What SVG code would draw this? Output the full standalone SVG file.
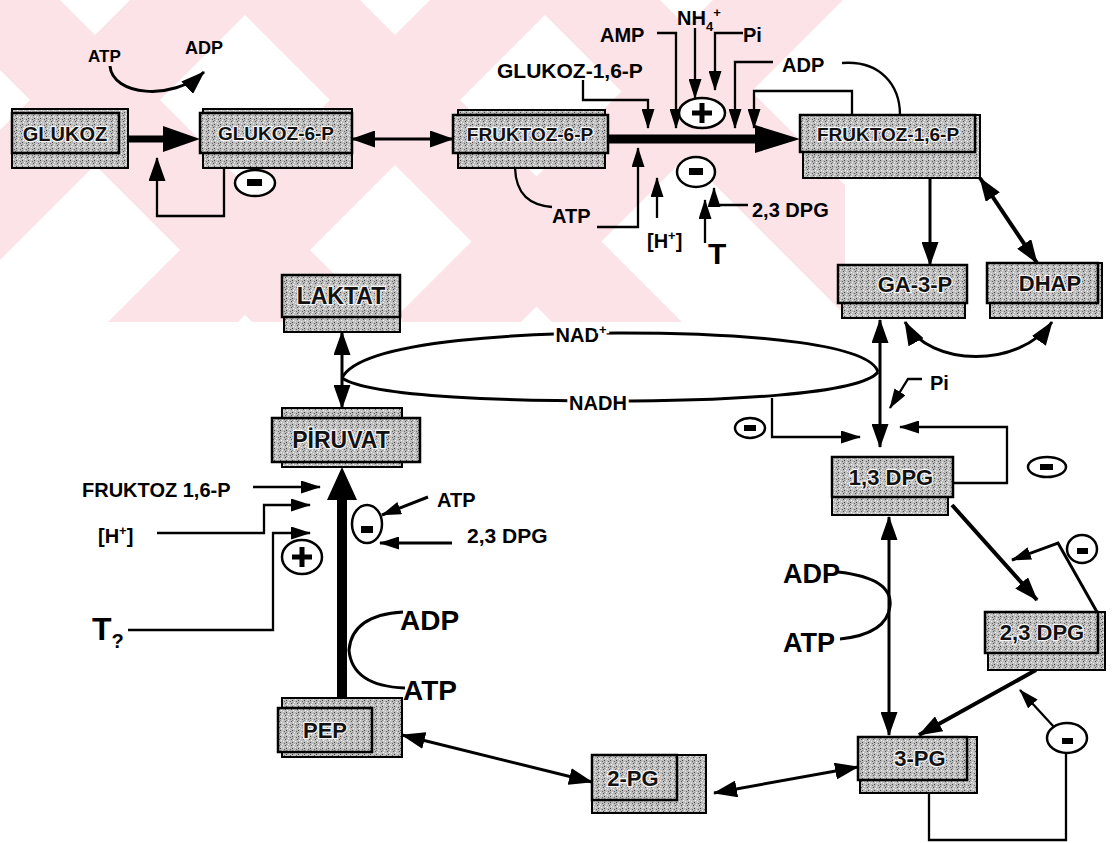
<svg xmlns="http://www.w3.org/2000/svg" width="1117" height="843" viewBox="0 0 1117 843">
<defs>
<style>
.ln{fill:none;stroke:#000;stroke-width:2.3}
.w3{stroke-width:3}
.w4{stroke-width:4}
.t{font-family:"Liberation Sans",Arial,sans-serif;font-weight:bold;fill:#000}
.h{stroke:#fff;stroke-width:6;paint-order:stroke}
.bk{fill:url(#st);stroke:#000;stroke-width:2}
.fr{fill:url(#st);stroke:#000;stroke-width:2.5}
.bl{font-family:"Liberation Sans",Arial,sans-serif;font-weight:bold;text-anchor:middle;fill:#111;stroke:#f4f4f4;stroke-width:2.5;paint-order:stroke}
.c{fill:#fff;stroke:#000;stroke-width:2.5}
.wm{fill:#fce3e7}
</style>
<pattern id="st" width="6" height="6" patternUnits="userSpaceOnUse">
<rect width="6" height="6" fill="#bdbdbd"/>
<rect x="0" y="0" width="1" height="1" fill="#f2f2f2"/>
<rect x="3" y="1" width="1" height="1" fill="#555"/>
<rect x="1" y="3" width="1" height="1" fill="#eee"/>
<rect x="4" y="4" width="1" height="1" fill="#444"/>
<rect x="5" y="2" width="1" height="1" fill="#fff"/>
<rect x="2" y="5" width="1" height="1" fill="#666"/>
<rect x="4" y="0" width="1" height="1" fill="#888"/>
</pattern>
<marker id="s" viewBox="0 0 20 13" refX="19" refY="6.5" markerWidth="20" markerHeight="13" markerUnits="userSpaceOnUse" orient="auto-start-reverse"><path d="M0,0L20,6.5L0,13z"/></marker>
<marker id="m" viewBox="0 0 24 17" refX="23" refY="8.5" markerWidth="24" markerHeight="17" markerUnits="userSpaceOnUse" orient="auto-start-reverse"><path d="M0,0L24,8.5L0,17z"/></marker>
<clipPath id="wc"><rect x="0" y="0" width="845" height="322"/></clipPath>
</defs>
<rect width="1117" height="843" fill="#fff"/>

<g id="watermark" clip-path="url(#wc)">
<polygon class="wm" points="-70,0 60,0 382,322 252,322"/>
<polygon class="wm" points="230,0 360,0 682,322 552,322"/>
<polygon class="wm" points="530,0 660,0 982,322 852,322"/>
<polygon class="wm" points="130,0 260,0 -62,322 -192,322"/>
<polygon class="wm" points="430,0 560,0 238,322 108,322"/>
<polygon class="wm" points="713,0 843,0 521,322 391,322"/>
</g>

<g id="connectors">
<path class="ln w3" d="M110,66 C112,95 172,102 204,72" marker-end="url(#m)"/>
<line x1="128" y1="139" x2="165" y2="139" stroke="#000" stroke-width="7"/>
<polygon points="163,126 200,139 163,152"/>
<path class="ln" d="M224,168 V216 H157 V158" marker-end="url(#m)"/>
<line class="ln w3" x1="352" y1="139" x2="453" y2="139" marker-start="url(#m)" marker-end="url(#m)"/>
<line x1="608" y1="139" x2="757" y2="139" stroke="#000" stroke-width="9"/>
<polygon points="755,125 800,139 755,153"/>
<path class="ln" d="M583,80 V100 H648 V128" marker-end="url(#s)"/>
<path class="ln" d="M657,33 H676 V128" marker-end="url(#s)"/>
<path class="ln" d="M695,28 V98" marker-end="url(#s)"/>
<path class="ln" d="M743,33 H715 V90" marker-end="url(#s)"/>
<path class="ln" d="M773,62 H735 V128" marker-end="url(#s)"/>
<path class="ln" d="M852,115 V91 H754 V128" marker-end="url(#s)"/>
<path class="ln" d="M842,63 C880,60 900,85 900,115"/>
<path class="ln" d="M515,168 C516,195 530,205 552,207"/>
<path class="ln" d="M597,227 H638 V148" marker-end="url(#s)"/>
<path class="ln" d="M657,218 V178" marker-end="url(#s)"/>
<path class="ln" d="M748,205 H714 V188" marker-end="url(#s)"/>
<path class="ln" d="M705,243 V200" marker-end="url(#s)"/>
<path class="ln w3" d="M930,178 V265" marker-end="url(#m)"/>
<line class="ln w4" x1="980" y1="178" x2="1037" y2="263" marker-start="url(#m)" marker-end="url(#m)"/>
<path class="ln w3" d="M905,322 C930,368 1020,368 1052,322" marker-start="url(#m)" marker-end="url(#m)"/>
<path class="ln w3" d="M880,320 V447" marker-start="url(#m)" marker-end="url(#m)"/>
<path class="ln" d="M922,379 H908 L890,408" marker-end="url(#s)"/>
<path class="ln" d="M772,398 V437 H860" marker-end="url(#s)"/>
<path class="ln" d="M953,483 H1007 V427 H900" marker-end="url(#s)"/>
<line class="ln w4" x1="952" y1="505" x2="1037" y2="600" marker-end="url(#m)"/>
<path class="ln w3" d="M1097,612 L1058,543 L1012,560" marker-end="url(#s)"/>
<path class="ln w3" d="M889,517 V735" marker-start="url(#m)" marker-end="url(#m)"/>
<path class="ln w3" d="M838,572 Q893,578 890,606 Q887,634 840,639"/>
<line class="ln w4" x1="1036" y1="670" x2="919" y2="735" marker-end="url(#m)"/>
<path class="ln" d="M1054,727 L1020,690" marker-end="url(#s)"/>
<path class="ln" d="M929,793 V840 H1066 V753"/>
<line class="ln w3" x1="714" y1="793" x2="858" y2="767" marker-start="url(#m)" marker-end="url(#m)"/>
<line class="ln w3" x1="402" y1="735" x2="592" y2="782" marker-start="url(#m)" marker-end="url(#m)"/>
<line x1="342" y1="698" x2="342" y2="498" stroke="#000" stroke-width="10"/>
<polygon points="327,500 342,467 357,500"/>
<path class="ln w3" d="M403,612 Q352,615 349,650 Q352,686 405,688"/>
<path class="ln" d="M128,630 H273 V533 H310" marker-end="url(#s)"/>
<path class="ln" d="M157,533 H264 V505 H310" marker-end="url(#s)"/>
<path class="ln" d="M253,487 H320" marker-end="url(#s)"/>
<path class="ln w3" d="M428,497 L382,515" marker-end="url(#s)"/>
<path class="ln w3" d="M452,543 H380" marker-end="url(#s)"/>
<path class="ln w3" d="M342,332 V408" marker-start="url(#m)" marker-end="url(#m)"/>
<path class="ln w3" d="M342,378 C362,338 540,333 620,333 C760,333 870,345 878,372"/>
<path class="ln w3" d="M342,378 C372,398 520,401 610,401 C720,401 860,395 878,372"/>
</g>

<g id="regulators">
<ellipse class="c" cx="255" cy="183" rx="20" ry="13"/><rect x="247" y="179" width="15" height="7"/>
<ellipse class="c" cx="702" cy="113" rx="23" ry="15"/><path d="M702,103V123M692,113H712" stroke="#000" stroke-width="5"/>
<ellipse class="c" cx="696" cy="172" rx="19" ry="15"/><rect x="689" y="168" width="14" height="7"/>
<ellipse class="c" cx="367" cy="524" rx="15" ry="19"/><rect x="361" y="526" width="12" height="7"/>
<ellipse class="c" cx="302" cy="557" rx="20" ry="17"/><path d="M302,547V567M292,557H312" stroke="#000" stroke-width="5"/>
<ellipse class="c" cx="750" cy="428" rx="15" ry="10"/><rect x="744" y="425" width="12" height="6"/>
<ellipse class="c" cx="1047" cy="467" rx="19" ry="10"/><rect x="1040" y="464" width="13" height="6"/>
<ellipse class="c" cx="1082" cy="549" rx="15" ry="14"/><rect x="1077" y="548" width="11" height="6"/>
<ellipse class="c" cx="1067" cy="738" rx="20" ry="15"/><rect x="1062" y="738" width="11" height="6"/>
</g>

<g id="labels">
<text class="t" x="88" y="62" font-size="17">ATP</text>
<text class="t" x="185" y="54" font-size="18">ADP</text>
<text class="t" x="497" y="78" font-size="21">GLUKOZ-1,6-P</text>
<text class="t" x="600" y="42" font-size="20">AMP</text>
<text class="t" x="677" y="25" font-size="20">NH<tspan font-size="13" dy="6">4</tspan><tspan font-size="13" dy="-14">+</tspan></text>
<text class="t" x="743" y="42" font-size="20">Pi</text>
<text class="t" x="782" y="72" font-size="20">ADP</text>
<text class="t" x="552" y="223" font-size="20">ATP</text>
<text class="t" x="647" y="248" font-size="20">[H<tspan font-size="13" dy="-8">+</tspan><tspan dy="8">]</tspan></text>
<text class="t" x="752" y="217" font-size="20">2,3 DPG</text>
<text class="t" x="708" y="264" font-size="30">T</text>
<text class="t h" x="581" y="342" font-size="20" text-anchor="middle">NAD<tspan font-size="13" dy="-8">+</tspan></text>
<text class="t h" x="598" y="410" font-size="20" text-anchor="middle">NADH</text>
<text class="t" x="930" y="390" font-size="20">Pi</text>
<text class="t" x="783" y="583" font-size="27">ADP</text>
<text class="t" x="783" y="652" font-size="27">ATP</text>
<text class="t" x="82" y="497" font-size="20">FRUKTOZ 1,6-P</text>
<text class="t" x="437" y="507" font-size="20">ATP</text>
<text class="t" x="467" y="543" font-size="21">2,3 DPG</text>
<text class="t" x="98" y="543" font-size="20">[H<tspan font-size="13" dy="-8">+</tspan><tspan dy="8">]</tspan></text>
<text class="t" x="92" y="640" font-size="32">T<tspan font-size="20" dy="8">?</tspan></text>
<text class="t" x="400" y="630" font-size="28">ADP</text>
<text class="t" x="403" y="700" font-size="28">ATP</text>
</g>

<g id="glukoz"><rect class="bk" x="12" y="109" width="116" height="59"/><rect class="fr" x="12" y="113" width="107" height="40"/><text class="bl" x="65" y="141" font-size="20">GLUKOZ</text></g>
<g id="glukoz-6-p"><rect class="bk" x="203" y="109" width="149" height="59"/><rect class="fr" x="200" y="113" width="152" height="40"/><text class="bl" x="276" y="140" font-size="19">GLUKOZ-6-P</text></g>
<g id="fruktoz-6-p"><rect class="bk" x="458" y="110" width="147" height="58"/><rect class="fr" x="453" y="115" width="155" height="38"/><text class="bl" x="530" y="141" font-size="19">FRUKTOZ-6-P</text></g>
<g id="fruktoz-1-6-p"><rect class="bk" x="803" y="115" width="177" height="63"/><rect class="fr" x="800" y="115" width="175" height="37"/><text class="bl" x="888" y="141" font-size="19">FRUKTOZ-1,6-P</text></g>
<g id="ga-3-p"><rect class="bk" x="842" y="265" width="123" height="53"/><rect class="fr" x="838" y="265" width="129" height="38"/><text class="bl" x="915" y="292" font-size="22">GA-3-P</text></g>
<g id="dhap"><rect class="bk" x="990" y="263" width="112" height="55"/><rect class="fr" x="987" y="263" width="111" height="40"/><text class="bl" x="1050" y="291" font-size="22">DHAP</text></g>
<g id="laktat"><rect class="bk" x="284" y="275" width="116" height="57"/><rect class="fr" x="282" y="275" width="118" height="42"/><text class="bl" x="341" y="304" font-size="23">LAKTAT</text></g>
<g id="piruvat"><rect class="bk" x="282" y="408" width="120" height="59"/><rect class="fr" x="272" y="418" width="148" height="44"/><text class="bl" x="341" y="448" font-size="23">PİRUVAT</text></g>
<g id="dpg-1-3"><rect class="bk" x="832" y="457" width="116" height="58"/><rect class="fr" x="832" y="457" width="121" height="40"/><text class="bl" x="891" y="485" font-size="22">1,3 DPG</text></g>
<g id="dpg-2-3"><rect class="bk" x="988" y="612" width="117" height="58"/><rect class="fr" x="985" y="612" width="113" height="41"/><text class="bl" x="1042" y="640" font-size="22">2,3 DPG</text></g>
<g id="pg-3"><rect class="bk" x="860" y="737" width="117" height="56"/><rect class="fr" x="858" y="737" width="109" height="43"/><text class="bl" x="920" y="766" font-size="22">3-PG</text></g>
<g id="pg-2"><rect class="bk" x="592" y="755" width="114" height="58"/><rect class="fr" x="592" y="755" width="85" height="45"/><text class="bl" x="633" y="786" font-size="22">2-PG</text></g>
<g id="pep"><rect class="bk" x="282" y="698" width="120" height="59"/><rect class="fr" x="278" y="708" width="94" height="44"/><text class="bl" x="325" y="738" font-size="22">PEP</text></g>
</svg>
